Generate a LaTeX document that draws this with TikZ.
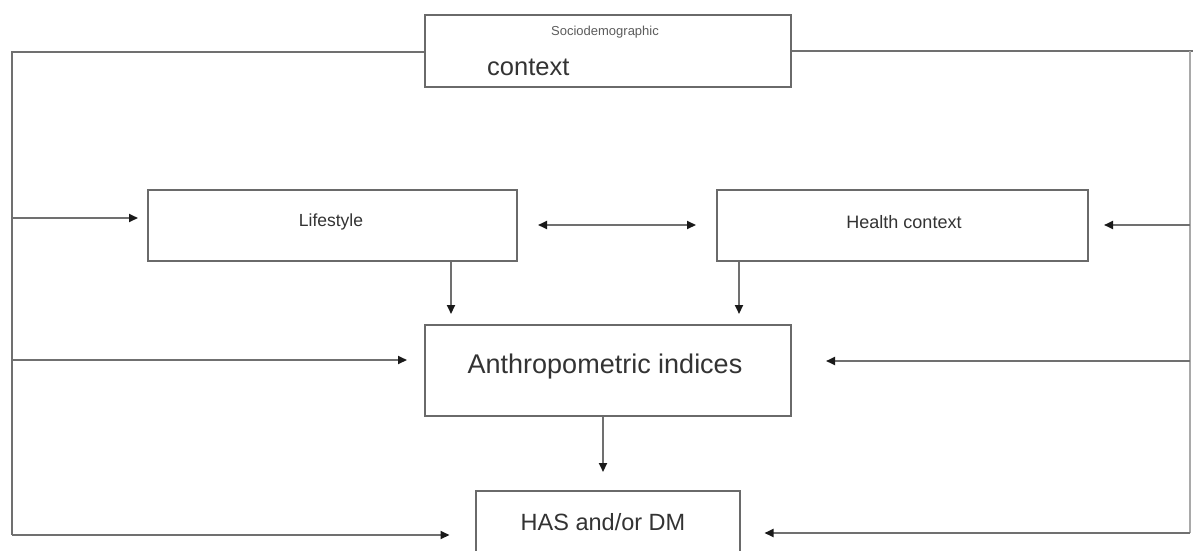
\documentclass[tikz,border=0pt]{standalone}
\usepackage{fontspec}
\setmainfont{Liberation Sans}
\usetikzlibrary{arrows.meta}
\definecolor{linegray}{HTML}{707070}
\definecolor{boxgray}{HTML}{6A6A6A}
\definecolor{txt}{HTML}{333333}
\definecolor{tipc}{HTML}{1A1A1A}
\tikzset{
  boxnode/.style={draw=boxgray, line width=2pt, inner sep=0pt, fill=white},
  lbl/.style={text=txt, inner sep=0pt},
  conn/.style={draw=linegray, line width=2pt},
  arr/.style={conn, -{Triangle[length=9pt,width=8pt,color=tipc]}},
  darr/.style={conn, {Triangle[length=9pt,width=8pt,color=tipc]}-{Triangle[length=9pt,width=8pt,color=tipc]}},
}
\begin{document}
\begin{tikzpicture}[x=1pt,y=-1pt]
\useasboundingbox (0,0) rectangle (1193,551);
\fill[white] (0,0) rectangle (1193,551);
\clip (0,0) rectangle (1193,551);

% boxes
\node[boxnode, minimum width=366pt, minimum height=72pt] (socio) at (608,51) {};
\node[boxnode, minimum width=369pt, minimum height=71pt] (life) at (332.5,225.5) {};
\node[boxnode, minimum width=371pt, minimum height=71pt] (health) at (902.5,225.5) {};
\node[boxnode, minimum width=366pt, minimum height=91pt] (anthro) at (608,370.5) {};
\node[boxnode, minimum width=264pt, minimum height=72pt] (has) at (607.5,527) {};

% labels
\node[lbl, text=txt!80, font=\fontsize{13}{15}\selectfont] (sociot) at (605,32) {Sociodemographic};
\node[lbl, font=\fontsize{25.5}{28}\selectfont, anchor=base west] (contextt) at (487,75) {context};
\node[lbl, font=\fontsize{17.5}{20}\selectfont] (lifet) at (331,222) {Lifestyle};
\node[lbl, font=\fontsize{18}{20}\selectfont] (healtht) at (904,222) {Health context};
\node[lbl, font=\fontsize{27}{30}\selectfont] (anthrot) at (605,367) {Anthropometric indices};
\node[lbl, font=\fontsize{23.5}{26}\selectfont] (hast) at (603,522) {HAS and/or DM};

% rails
\coordinate (LT) at (12,52);
\coordinate (LB) at (12,535);
\coordinate (RT) at (1190,51);
\coordinate (RB) at (1190,533);
\coordinate (REdge) at (1193,51);
\draw[conn] (socio.west |- LT) -- (LT) -- (LB);
\draw[conn] (socio.east) -- (REdge);
\draw[conn, draw=linegray!60] (RT) -- (RB);

% left rail arrows
\coordinate (l1) at (12,218);
\coordinate (l2) at (12,360);
\draw[arr, shorten >=9pt] (l1) -- (l1 -| life.west);
\draw[arr, shorten >=17pt] (l2) -- (l2 -| anthro.west);
\draw[arr, shorten >=25pt] (LB) -- (LB -| has.west);

% right rail arrows
\coordinate (r1) at (1190,225);
\coordinate (r2) at (1190,361);
\draw[arr, shorten >=15pt] (r1) -- (r1 -| health.east);
\draw[arr, shorten >=34pt] (r2) -- (r2 -| anthro.east);
\draw[arr, shorten >=24pt] (RB) -- (RB -| has.east);

% double arrow
\draw[darr, shorten <=20pt, shorten >=20pt] (life.east |- 0,225) -- (health.west |- 0,225);

% down arrows
\coordinate (d1) at (451,0);
\coordinate (d2) at (739,0);
\coordinate (d3) at (603,0);
\draw[arr, shorten >=10pt] (d1 |- life.south) -- (d1 |- anthro.north);
\draw[arr, shorten >=10pt] (d2 |- health.south) -- (d2 |- anthro.north);
\draw[arr, shorten >=18pt] (d3 |- anthro.south) -- (d3 |- has.north);
\end{tikzpicture}
\end{document}
